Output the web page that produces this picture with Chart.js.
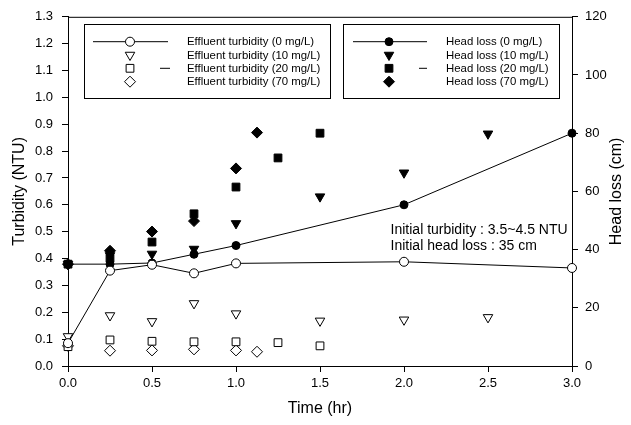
<!DOCTYPE html>
<html>
<head>
<meta charset="utf-8">
<script src="https://cdn.jsdelivr.net/npm/chart.js@4.4.0/dist/chart.umd.min.js"></script>
<style>
body { margin: 0; background: #fff; }
#wrap { width: 631px; height: 425px; }
</style>
</head>
<body>
<div id="wrap"><canvas id="chart1"></canvas></div>
<script>
// effluent turbidity (NTU), left axis
const timeTurb0 = [0, 0.25, 0.5, 0.75, 1.0, 2.0, 3.0];
const turb0 = [0.085, 0.355, 0.377, 0.345, 0.382, 0.388, 0.365];
const timeTurb10 = [0, 0.25, 0.5, 0.75, 1.0, 1.5, 2.0, 2.5];
const turb10 = [0.11, 0.188, 0.166, 0.233, 0.195, 0.168, 0.172, 0.181];
const timeTurb20 = [0, 0.25, 0.5, 0.75, 1.0, 1.25, 1.5];
const turb20 = [0.072, 0.097, 0.092, 0.09, 0.09, 0.087, 0.075];
const timeTurb70 = [0, 0.25, 0.5, 0.75, 1.0, 1.125];
const turb70 = [0.075, 0.057, 0.058, 0.062, 0.058, 0.053];

// head loss (cm), right axis
const timeHead0 = [0, 0.25, 0.5, 0.75, 1.0, 2.0, 3.0];
const head0 = [35, 35, 35.4, 38.4, 41.4, 55.4, 80];
const timeHead10 = [0, 0.25, 0.5, 0.75, 1.0, 1.5, 2.0, 2.5];
const head10 = [35, 38, 38.5, 40.2, 49, 58.2, 66.4, 79.8];
const timeHead20 = [0, 0.25, 0.5, 0.75, 1.0, 1.25, 1.5];
const head20 = [35, 37, 42.6, 52.3, 61.5, 71.5, 80];
const timeHead70 = [0, 0.25, 0.5, 0.75, 1.0, 1.125];
const head70 = [35, 39.6, 46.2, 49.8, 67.9, 80.2];

const turbLabels = ['Effluent turbidity (0 mg/L)', 'Effluent turbidity (10 mg/L)', 'Effluent turbidity (20 mg/L)', 'Effluent turbidity (70 mg/L)'];
const headLabels = ['Head loss (0 mg/L)', 'Head loss (10 mg/L)', 'Head loss (20 mg/L)', 'Head loss (70 mg/L)'];
const noteLines = ['Initial turbidity : 3.5~4.5 NTU', 'Initial head loss : 35 cm'];

const FONT = '"Liberation Sans", Arial, sans-serif';

function pts(xs, ys) {
    return xs.map((x, i) => ({ x: x, y: ys[i] }));
}

function series(label, xs, ys, axis, style, filled, radius, rotation, line) {
    return {
        label: label,
        data: pts(xs, ys),
        yAxisID: axis,
        showLine: line,
        borderColor: '#000',
        borderWidth: 1,
        backgroundColor: filled ? '#000' : '#fff',
        pointStyle: style,
        pointRadius: radius,
        pointRotation: rotation,
        pointBorderColor: '#000',
        pointBackgroundColor: filled ? '#000' : '#fff',
        pointBorderWidth: 1,
        clip: false
    };
}

const datasets = [
    series(turbLabels[0], timeTurb0, turb0, 'y', 'circle', false, 4.5, 0, true),
    series(turbLabels[1], timeTurb10, turb10, 'y', 'triangle', false, 5.5, 180, false),
    series(turbLabels[2], timeTurb20, turb20, 'y', 'rect', false, 5.5, 0, false),
    series(turbLabels[3], timeTurb70, turb70, 'y', 'rectRot', false, 5.5, 0, false),
    series(headLabels[0], timeHead0, head0, 'y1', 'circle', true, 4, 0, true),
    series(headLabels[1], timeHead10, head10, 'y1', 'triangle', true, 5.5, 180, false),
    series(headLabels[2], timeHead20, head20, 'y1', 'rect', true, 5.5, 0, false),
    series(headLabels[3], timeHead70, head70, 'y1', 'rectRot', true, 5.5, 0, false)
];

// frame, legend boxes, note text and axis titles
const decor = {
    id: 'decor',
    afterDraw(chart) {
        const ctx = chart.ctx;
        const a = chart.chartArea;
        ctx.save();
        ctx.strokeStyle = '#000';
        ctx.lineWidth = 1;
        ctx.beginPath();
        ctx.moveTo(a.left, a.top + 0.5);
        ctx.lineTo(a.right, a.top + 0.5);
        ctx.stroke();

        function legendBox(x0, x1, lineX0, lineX1, markX, dashX0, dashX1, textX, first) {
            ctx.strokeStyle = '#000';
            ctx.lineWidth = 1;
            ctx.strokeRect(x0 + 0.5, 24.5, x1 - x0, 74);
            const rows = [41.7, 55, 68.3, 81.7];
            for (let i = 0; i < 4; i++) {
                const ds = chart.data.datasets[first + i];
                const y = rows[i];
                if (ds.showLine) {
                    ctx.beginPath();
                    ctx.moveTo(lineX0, y);
                    ctx.lineTo(lineX1, y);
                    ctx.stroke();
                }
                if (i === 2) {
                    ctx.beginPath();
                    ctx.moveTo(dashX0, y);
                    ctx.lineTo(dashX1, y);
                    ctx.stroke();
                }
                ctx.fillStyle = ds.pointBackgroundColor;
                ctx.strokeStyle = '#000';
                Chart.helpers.drawPoint(ctx, {
                    pointStyle: ds.pointStyle,
                    radius: ds.pointRadius,
                    rotation: ds.pointRotation,
                    borderWidth: 1
                }, markX, y);
                ctx.fillStyle = '#000';
                ctx.font = '11.4px ' + FONT;
                ctx.textAlign = 'left';
                ctx.textBaseline = 'middle';
                ctx.fillText(ds.label, textX, y + 0.5);
            }
        }
        legendBox(84, 330, 93, 168, 130, 160, 170, 187, 0);
        legendBox(343, 559, 353, 427, 389, 419, 427, 446, 4);

        const xs = chart.scales.x;
        const ys = chart.scales.y;
        ctx.fillStyle = '#000';
        ctx.font = '14px ' + FONT;
        ctx.textAlign = 'left';
        ctx.textBaseline = 'middle';
        ctx.fillText(noteLines[0], xs.getPixelForValue(1.92), ys.getPixelForValue(0.505));
        ctx.fillText(noteLines[1], xs.getPixelForValue(1.92), ys.getPixelForValue(0.447));

        ctx.font = '16px ' + FONT;
        ctx.textAlign = 'center';
        ctx.textBaseline = 'middle';
        ctx.fillText('Time (hr)', (a.left + a.right) / 2, 409);
        ctx.save();
        ctx.translate(20, (a.top + a.bottom) / 2);
        ctx.rotate(-Math.PI / 2);
        ctx.fillText('Turbidity (NTU)', 0, 0);
        ctx.restore();
        ctx.save();
        ctx.translate(617, (a.top + a.bottom) / 2);
        ctx.rotate(-Math.PI / 2);
        ctx.fillText('Head loss (cm)', 0, 0);
        ctx.restore();
        ctx.restore();
    }
};

const axisGrid = {
    display: true,
    drawOnChartArea: false,
    drawTicks: true,
    tickLength: 6,
    color: '#000'
};
const axisBorder = { display: true, color: '#000', width: 1 };
const tickFont = { family: FONT, size: 13 };

const chart1 = new Chart(document.getElementById('chart1').getContext('2d'), {
    type: 'scatter',
    data: { datasets: datasets },
    options: {
        responsive: true,
        maintainAspectRatio: false,
        animation: false,
        layout: { padding: { top: 15, left: 0, right: 0, bottom: 0 } },
        scales: {
            x: {
                type: 'linear',
                min: 0,
                max: 3,
                grid: axisGrid,
                border: axisBorder,
                ticks: {
                    stepSize: 0.5,
                    color: '#000',
                    font: tickFont,
                    padding: 4,
                    callback: v => v.toFixed(1)
                },
                afterFit(s) { s.height = 59; }
            },
            y: {
                position: 'left',
                min: 0,
                max: 1.3,
                grid: axisGrid,
                border: axisBorder,
                ticks: {
                    stepSize: 0.1,
                    color: '#000',
                    font: tickFont,
                    padding: 9,
                    callback: v => v.toFixed(1)
                },
                afterFit(s) { s.width = 68; }
            },
            y1: {
                position: 'right',
                min: 0,
                max: 120,
                grid: axisGrid,
                border: axisBorder,
                ticks: {
                    stepSize: 20,
                    color: '#000',
                    font: tickFont,
                    padding: 7
                },
                afterFit(s) { s.width = 59; }
            }
        },
        plugins: {
            legend: { display: false },
            tooltip: { enabled: false }
        }
    },
    plugins: [decor]
});
</script>
</body>
</html>
